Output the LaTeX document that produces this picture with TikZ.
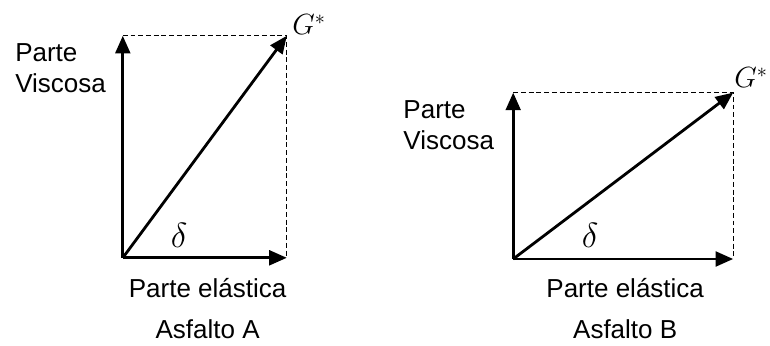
\documentclass[tikz,border=0pt]{standalone}
\usepackage{fontspec}
\setmainfont{Liberation Sans}
\usetikzlibrary{arrows.meta}

\begin{document}
\begin{tikzpicture}[
  vec/.style={line width=2pt, -{Triangle[length=12.5pt,width=10.5pt]}},
  proj/.style={line width=0.7pt, dash pattern=on 3.5pt off 2pt},
  lbl/.style={inner sep=0pt, font=\fontsize{18.5}{22}\selectfont},
  sym/.style={inner sep=0pt, font=\fontsize{22}{26}\selectfont}]
  \useasboundingbox (0,0) rectangle (19.25,8.625);
  % Asfalto A
  \coordinate (oA) at (3.07,2.18);
  \coordinate (yA) at (3.07,7.73);
  \coordinate (xA) at (7.17,2.18);
  \coordinate (gA) at (7.17,7.73);
  \draw[proj] (yA) -- (gA) -- (xA);
  \draw[vec] (oA) -- (yA);
  \draw[vec] (oA) -- (xA);
  \draw[vec] (oA) -- (gA);
  \node[lbl, anchor=north west, align=left] (vA) at (0.375,7.55) {Parte\\Viscosa};
  \node[lbl, anchor=base] (eA) at (5.19,1.2) {Parte elástica};
  \node[lbl, anchor=base] (nA) at (5.19,0.175) {Asfalto A};
  \node[sym, anchor=base west] (GA) at (7.3,7.75) {$G^*$};
  \node[sym, font=\fontsize{24}{28}\selectfont] (dA) at (4.475,2.73) {$\delta$};
  % Asfalto B
  \coordinate (oB) at (12.83,2.15);
  \coordinate (yB) at (12.83,6.31);
  \coordinate (xB) at (18.33,2.15);
  \coordinate (gB) at (18.33,6.31);
  \draw[proj] (yB) -- (gB) -- (xB);
  \draw[vec] (oB) -- (yB);
  \draw[vec] (oB) -- (xB);
  \draw[vec] (oB) -- (gB);
  \node[lbl, anchor=north west, align=left] (vB) at (10.08,6.125) {Parte\\Viscosa};
  \node[lbl, anchor=base] (eB) at (15.63,1.2) {Parte elástica};
  \node[lbl, anchor=base] (nB) at (15.63,0.175) {Asfalto B};
  \node[sym, anchor=base east] (GB) at (19.2,6.43) {$G^*$};
  \node[sym, font=\fontsize{24}{28}\selectfont] (dB) at (14.75,2.75) {$\delta$};
\end{tikzpicture}
\end{document}
